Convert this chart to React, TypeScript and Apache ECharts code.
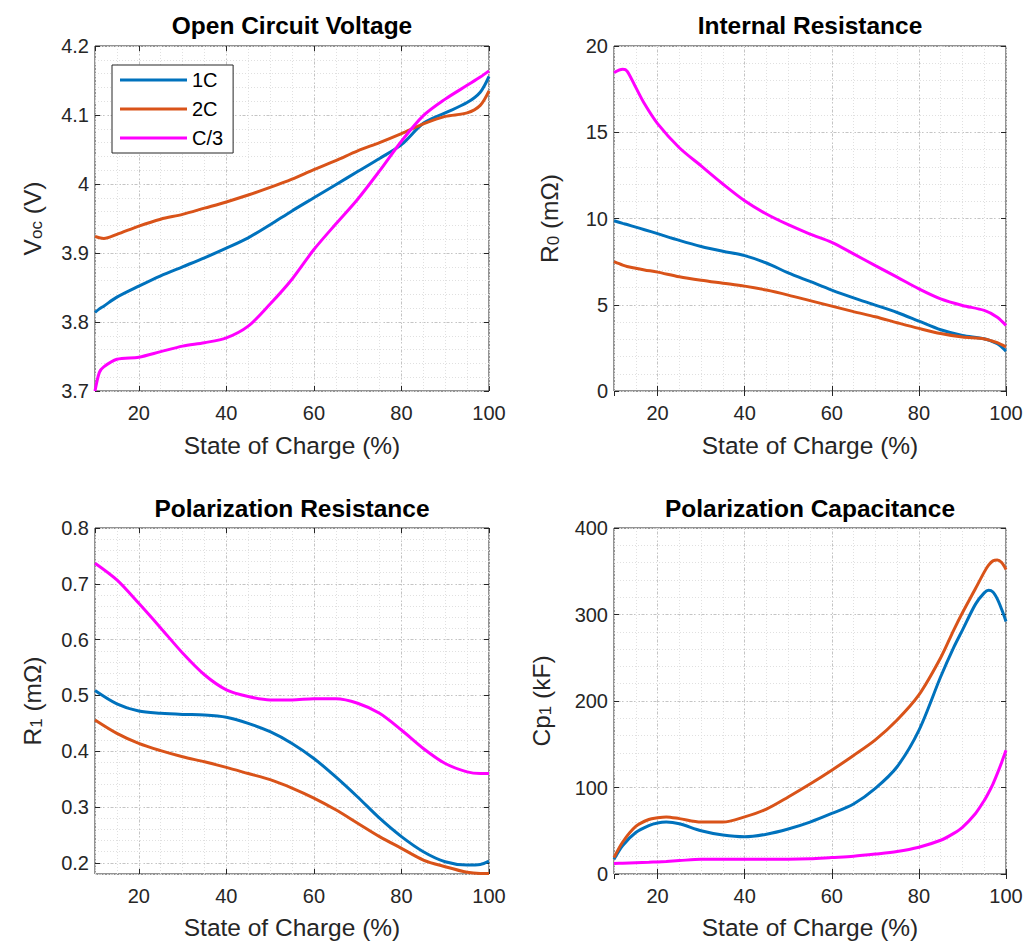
import React, { useEffect, useRef } from 'react';
import * as echarts from 'echarts';

const SERIES_NAMES = ['1C', '2C', 'C/3'];
const SERIES_COLORS = ['#0072BD', '#D95319', '#FF00FF'];

const TITLES = ['Open Circuit Voltage', 'Internal Resistance', 'Polarization Resistance', 'Polarization Capacitance'];
const Y_NAMES = ['{m|V}{s|oc}{m| (V)}', '{m|R}{s|0}{m| (mΩ)}', '{m|R}{s|1}{m| (mΩ)}', '{m|Cp}{s|1}{m| (kF)}'];
const X_NAME = 'State of Charge (%)';

// Plot 1: Open circuit voltage (V)
const SOC_OCV = [10, 11, 12, 15, 20, 25, 30, 35, 40, 45, 50, 55, 60, 65, 70, 75, 80, 85, 90, 95, 98, 100];
const OCV_1C = [3.814, 3.819, 3.823, 3.836, 3.852, 3.867, 3.880, 3.893, 3.907, 3.922, 3.941, 3.961, 3.980, 3.999, 4.018, 4.037, 4.057, 4.088, 4.103, 4.118, 4.133, 4.156];
const OCV_2C = [3.924, 3.922, 3.921, 3.927, 3.939, 3.949, 3.956, 3.965, 3.974, 3.984, 3.995, 4.007, 4.021, 4.034, 4.048, 4.060, 4.073, 4.087, 4.098, 4.103, 4.114, 4.135];
const OCV_C3 = [3.700, 3.727, 3.735, 3.746, 3.749, 3.757, 3.765, 3.770, 3.777, 3.794, 3.826, 3.862, 3.905, 3.942, 3.978, 4.019, 4.062, 4.099, 4.123, 4.143, 4.155, 4.164];

// Plot 2: Internal resistance (mOhm)
const SOC_R0 = [10, 12, 13, 15, 17, 20, 25, 30, 35, 40, 45, 50, 55, 60, 65, 70, 75, 80, 85, 90, 95, 98, 100];
const R0_1C = [9.87, 9.72, 9.65, 9.5, 9.35, 9.12, 8.73, 8.38, 8.1, 7.85, 7.42, 6.85, 6.35, 5.85, 5.4, 4.98, 4.55, 4.05, 3.55, 3.22, 3.03, 2.74, 2.31];
const R0_2C = [7.5, 7.3, 7.22, 7.12, 7.02, 6.89, 6.62, 6.42, 6.25, 6.08, 5.85, 5.56, 5.24, 4.92, 4.6, 4.3, 3.96, 3.63, 3.33, 3.13, 3.02, 2.8, 2.55];
const R0_C3 = [18.46, 18.65, 18.55, 17.6, 16.65, 15.5, 14.1, 13.05, 12.0, 11.03, 10.26, 9.64, 9.1, 8.62, 7.95, 7.27, 6.6, 5.92, 5.34, 4.96, 4.67, 4.28, 3.8];

// Plot 3: Polarization resistance (mOhm)
const SOC_R1 = [10, 15, 20, 25, 30, 35, 40, 45, 50, 55, 60, 65, 70, 75, 80, 85, 90, 95, 98, 100];
const R1_1C = [0.509, 0.485, 0.472, 0.468, 0.466, 0.465, 0.461, 0.45, 0.435, 0.414, 0.387, 0.354, 0.318, 0.28, 0.247, 0.22, 0.202, 0.196, 0.197, 0.203];
const R1_2C = [0.456, 0.432, 0.414, 0.401, 0.39, 0.381, 0.371, 0.36, 0.349, 0.334, 0.316, 0.295, 0.271, 0.247, 0.226, 0.205, 0.193, 0.183, 0.181, 0.181];
const R1_C3 = [0.737, 0.707, 0.665, 0.621, 0.576, 0.537, 0.51, 0.498, 0.492, 0.492, 0.494, 0.494, 0.486, 0.468, 0.438, 0.405, 0.378, 0.363, 0.36, 0.36];

// Plot 4: Polarization capacitance (kF)
const SOC_CP = [10, 12, 15, 18, 20, 22, 25, 30, 35, 40, 45, 50, 55, 60, 65, 70, 75, 80, 85, 88, 90, 93, 95, 96, 97, 98, 99, 100];
const CP_1C = [17, 33, 48, 56, 59, 60, 58, 50, 45, 43, 46, 52, 60, 70, 81, 99, 124, 166, 228, 262, 282, 312, 325, 328, 326, 318, 306, 292];
const CP_2C = [19, 37, 55, 63, 65, 66, 64, 60, 60, 66, 75, 89, 104, 120, 137, 155, 178, 207, 250, 282, 302, 330, 349, 357, 362, 363, 360, 352];
const CP_C3 = [12, 12.5, 13, 13.5, 14, 14.5, 15.5, 17, 17, 17, 17, 17, 17.5, 19, 20.5, 23, 26, 31, 39, 47, 54, 70, 85, 94, 104, 116, 129, 143];

const X_MIN = 10;
const X_MAX = 100;
const X_MINOR = 5;

const Y_MIN = [3.7, 0, 0.18, 0];
const Y_MAX = [4.2, 20, 0.8, 400];
const Y_MINOR = [0.02, 1, 0.02, 20];

const PLOTS = [
  { soc: SOC_OCV, vals: [OCV_1C, OCV_2C, OCV_C3] },
  { soc: SOC_R0, vals: [R0_1C, R0_2C, R0_C3] },
  { soc: SOC_R1, vals: [R1_1C, R1_2C, R1_C3] },
  { soc: SOC_CP, vals: [CP_1C, CP_2C, CP_C3] },
];

const GRIDS = [
  { left: 95, top: 46, width: 394, height: 345 },
  { left: 614, top: 46, width: 392, height: 345 },
  { left: 95, top: 528, width: 394, height: 346 },
  { left: 614, top: 528, width: 392, height: 346 },
];
const TITLE_POS = [
  { left: 292, top: 13 },
  { left: 810, top: 13 },
  { left: 292, top: 496 },
  { left: 810, top: 496 },
];
const Y_NAME_GAP = [50, 52, 50, 60];
const X_NAME_GAP = [42, 42, 41, 41];

const FONT = "'Liberation Sans', Arial, Helvetica, sans-serif";
const AX = '#262626';

export default function App() {
  const ref = useRef<HTMLDivElement>(null);
  useEffect(() => {
    if (!ref.current) return;
    document.body.style.margin = '0';
    const chart = echarts.init(ref.current, undefined, { renderer: 'svg' });

    const majorLine = { show: true, lineStyle: { color: '#c4c4c4', type: [2, 2] as any, width: 1 } };
    const minorLine = { show: true, lineStyle: { color: '#e0e0e0', type: [1, 2] as any, width: 1 } };
    const tick = { show: true, inside: true, length: 5, lineStyle: { color: AX, width: 1 } };

    const xAxis: any[] = [];
    const yAxis: any[] = [];
    const series: any[] = [];

    GRIDS.forEach((_, i) => {
      xAxis.push({
        type: 'value', gridIndex: i, position: 'bottom', min: X_MIN, max: X_MAX,
        axisLine: { show: false }, axisTick: tick,
        axisLabel: {
          show: true, fontSize: 20, color: AX, margin: 12, fontFamily: FONT, showMinLabel: false,
          formatter: (v: number) => (v === X_MIN ? '' : String(v)),
        },
        splitLine: majorLine,
        name: X_NAME, nameLocation: 'middle', nameGap: X_NAME_GAP[i],
        nameTextStyle: { fontSize: 24.5, color: AX, fontFamily: FONT },
      });
      xAxis.push({
        type: 'value', gridIndex: i, position: 'top', min: X_MIN, max: X_MAX,
        axisLine: { show: false }, axisTick: tick, axisLabel: { show: false }, splitLine: { show: false },
      });
      xAxis.push({
        type: 'value', gridIndex: i, position: 'bottom', min: X_MIN, max: X_MAX, interval: X_MINOR,
        axisLine: { show: false }, axisTick: { show: false }, axisLabel: { show: false }, splitLine: minorLine,
      });

      yAxis.push({
        type: 'value', gridIndex: i, position: 'left', min: Y_MIN[i], max: Y_MAX[i],
        axisLine: { show: false }, axisTick: tick,
        axisLabel: {
          show: true, fontSize: 20, color: AX, margin: 6, fontFamily: FONT,
          showMinLabel: i !== 2,
          formatter: (v: number) => (i === 2 && Math.abs(v - Y_MIN[2]) < 1e-9 ? '' : String(+v.toFixed(4))),
        },
        splitLine: majorLine,
        name: Y_NAMES[i], nameLocation: 'middle', nameGap: Y_NAME_GAP[i],
        nameTextStyle: {
          color: AX, fontFamily: FONT,
          rich: {
            m: { fontSize: 24.5, lineHeight: 26, color: AX, fontFamily: FONT },
            s: { fontSize: 17, lineHeight: 17, padding: [15, 0, 0, 0], verticalAlign: 'bottom', color: AX, fontFamily: FONT },
          },
        },
      });
      yAxis.push({
        type: 'value', gridIndex: i, position: 'right', min: Y_MIN[i], max: Y_MAX[i],
        axisLine: { show: false }, axisTick: tick, axisLabel: { show: false }, splitLine: { show: false },
      });
      yAxis.push({
        type: 'value', gridIndex: i, position: 'left', min: Y_MIN[i], max: Y_MAX[i], interval: Y_MINOR[i],
        axisLine: { show: false }, axisTick: { show: false }, axisLabel: { show: false }, splitLine: minorLine,
      });

      const p = PLOTS[i];
      p.vals.forEach((vals, k) => {
        series.push({
          type: 'line', name: SERIES_NAMES[k], xAxisIndex: 3 * i, yAxisIndex: 3 * i,
          data: p.soc.map((x, j) => [x, vals[j]]),
          showSymbol: false, symbol: 'none', smooth: 0.3,
          lineStyle: { color: SERIES_COLORS[k], width: 3 },
          itemStyle: { color: SERIES_COLORS[k] },
          clip: true, z: 5,
        });
      });
    });

    chart.setOption({
      animation: false,
      backgroundColor: '#ffffff',
      textStyle: { fontFamily: FONT },
      title: TITLES.map((t, i) => ({
        text: t, left: TITLE_POS[i].left, top: TITLE_POS[i].top, textAlign: 'center', padding: 0,
        textStyle: { fontSize: 24.5, fontWeight: 'bold', color: '#000', fontFamily: FONT },
      })),
      grid: GRIDS.map((g) => ({
        ...g, show: true, borderColor: AX, borderWidth: 1, backgroundColor: '#ffffff', containLabel: false,
      })),
      legend: {
        data: SERIES_NAMES, orient: 'vertical', left: 112, top: 65,
        icon: 'rect', itemWidth: 67, itemHeight: 3, itemGap: 9,
        padding: [5, 10, 5, 8], borderColor: AX, borderWidth: 1, backgroundColor: '#ffffff',
        textStyle: { fontSize: 20, color: '#000', fontFamily: FONT, padding: [0, 0, 0, 0] },
        z: 10,
      },
      xAxis, yAxis, series,
    });

    return () => chart.dispose();
  }, []);

  return <div ref={ref} style={{ position: 'absolute', left: 0, top: 0, width: 1028, height: 942 }} />;
}
